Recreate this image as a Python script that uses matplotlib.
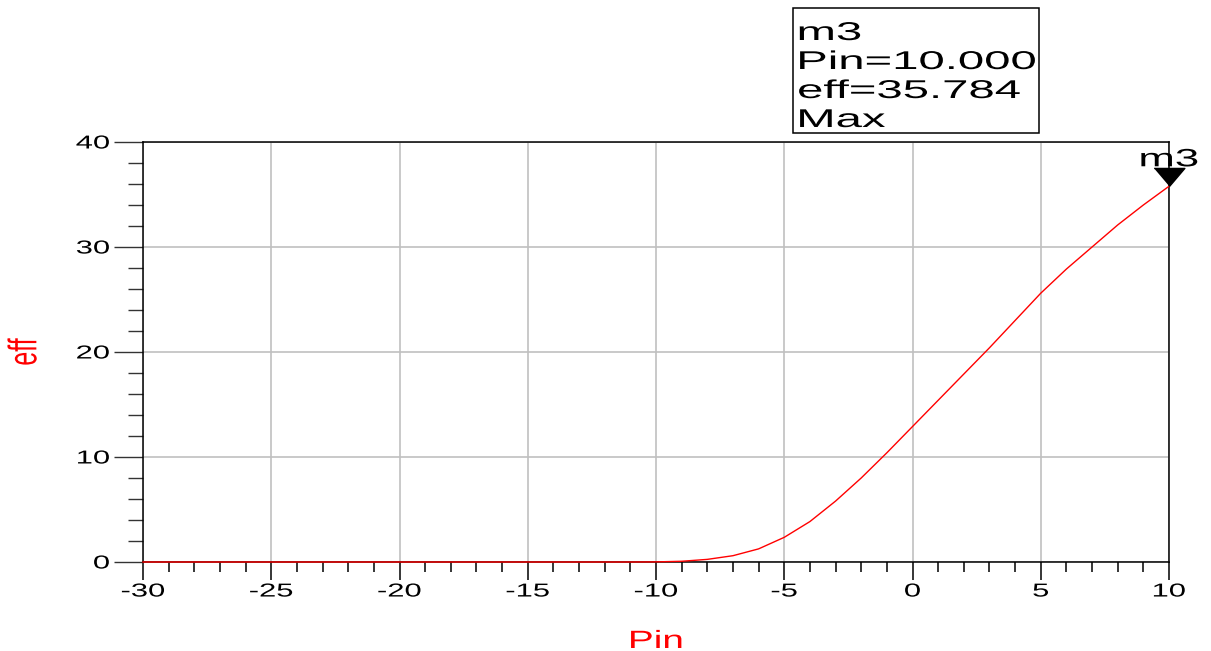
import matplotlib
matplotlib.use('Agg')
import matplotlib.pyplot as plt
import matplotlib.patheffects as pe
from matplotlib.patches import Rectangle
from matplotlib.ticker import MultipleLocator
from matplotlib.transforms import Affine2D

# swept input power (dBm) and efficiency (%)
pin = [-30, -29, -28, -27, -26, -25, -24, -23, -22, -21, -20, -19, -18, -17,
       -16, -15, -14, -13, -12, -11, -10, -9, -8, -7, -6, -5, -4, -3, -2, -1,
       0, 1, 2, 3, 4, 5, 6, 7, 8, 9, 10]
eff = [0, 0, 0, 0, 0, 0, 0, 0, 0, 0, 0, 0, 0, 0,
       0, 0, 0, 0, 0, 0, 0.01, 0.07, 0.25, 0.6, 1.25, 2.35, 3.85, 5.8, 8.0, 10.4,
       12.9, 15.4, 17.9, 20.4, 23.0, 25.6, 27.9, 30.0, 32.1, 34.0, 35.784]
x_ticks = [-30, -25, -20, -15, -10, -5, 0, 5, 10]
y_ticks = [0, 10, 20, 30, 40]
marker_name = 'm3'
marker_lines = ['m3', 'Pin=10.000', 'eff=35.784', 'Max']

FONT = 'Liberation Sans'
plt.rcParams['axes.unicode_minus'] = False


class StretchX(pe.AbstractPathEffect):
    """Widen glyphs horizontally (the reference is a stretched screenshot)."""

    def __init__(self, sx=1.68, anchor='center'):
        super().__init__()
        self.sx = sx
        self.anchor = anchor

    def draw_path(self, renderer, gc, tpath, affine, rgbFace=None):
        ext = tpath.get_extents(affine)
        if self.anchor == 'left':
            x0 = ext.x0
        elif self.anchor == 'right':
            x0 = ext.x1
        else:
            x0 = 0.5 * (ext.x0 + ext.x1)
        tr = affine + Affine2D().translate(-x0, 0).scale(self.sx, 1).translate(x0, 0)
        renderer.draw_path(gc, tpath, tr, rgbFace)


W, H = 1211, 651
fig = plt.figure(figsize=(W / 100, H / 100), dpi=100)
ax = fig.add_axes([143 / W, (H - 562) / H, 1026 / W, 420 / H])

ax.plot(pin, eff, color='#ff0000', lw=1.0, zorder=3, clip_on=False)

ax.set_xlim(-30, 10)
ax.set_ylim(0, 40)
ax.set_xticks(x_ticks)
ax.set_yticks(y_ticks)
ax.xaxis.set_minor_locator(MultipleLocator(1))
ax.yaxis.set_minor_locator(MultipleLocator(2))
ax.grid(True, which='major', color='#c0c0c0', lw=1.2)
ax.set_axisbelow(True)

for s in ax.spines.values():
    s.set_linewidth(1.1)
    s.set_color('black')

ax.tick_params(axis='x', which='major', length=13, width=1.1, direction='out',
               pad=2.5, labelsize=13.5, colors='black')
ax.tick_params(axis='x', which='minor', length=7.2, width=1.1, direction='out')
ax.tick_params(axis='y', which='major', length=21, width=1.0, direction='out',
               pad=3, labelsize=13.5, color='#333333')
ax.tick_params(axis='y', which='minor', length=10.8, width=1.0, direction='out',
               color='#333333')

for lbl in ax.get_xticklabels():
    lbl.set_fontfamily(FONT)
    lbl.set_path_effects([StretchX(1.65, 'center')])
for lbl in ax.get_yticklabels():
    lbl.set_fontfamily(FONT)
    lbl.set_path_effects([StretchX(1.65, 'right')])

# axis labels
fig.text(656 / W, 1 - 648 / H, 'Pin', color='#ff0000', fontsize=18, family=FONT,
         ha='center', va='baseline', path_effects=[StretchX(1.55, 'center')])
fig.text(24 / W, 1 - 352 / H, 'eff', color='#ff0000', fontsize=18, family=FONT,
         rotation=90, ha='center', va='center',
         path_effects=[StretchX(1.6, 'center')])

# max marker
imax = eff.index(max(eff))
tri = [(-0.85, 1.0), (0.85, 1.0), (0.0, 0.0)]
ax.plot([pin[imax]], [eff[imax]], linestyle='none', marker=tri, markersize=26,
        color='black', zorder=5, clip_on=False)
ax.annotate(marker_name, (pin[imax], eff[imax]), xytext=(0, 20),
            textcoords='offset pixels', ha='center', va='baseline',
            fontsize=18, family=FONT, color='black', annotation_clip=False,
            path_effects=[StretchX(1.75, 'center')])

# marker readout box
fig.add_artist(Rectangle((793 / W, 1 - 133 / H), (1039 - 793) / W, (133 - 8) / H,
                         transform=fig.transFigure, fill=False, ec='black', lw=1.1))
for i, line in enumerate(marker_lines):
    fig.text(798 / W, 1 - (40 + 29 * i) / H, line, fontsize=18.5, family=FONT,
             ha='left', va='baseline', color='black',
             path_effects=[StretchX(1.84, 'left')])

fig.savefig('out.png', dpi=100)
